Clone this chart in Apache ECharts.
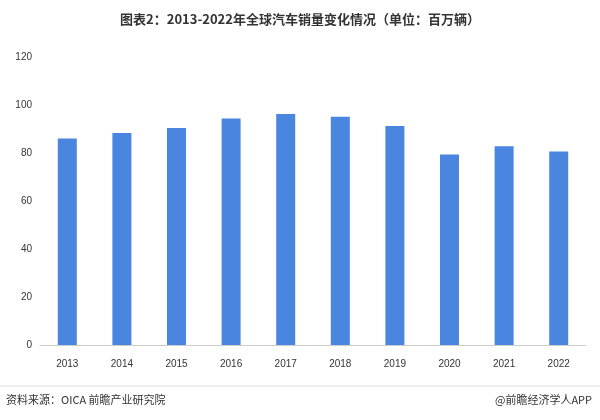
<!DOCTYPE html>
<html><head><meta charset="utf-8">
<script src="https://cdn.jsdelivr.net/npm/echarts@6/dist/echarts.min.js"></script>
</head><body style="margin:0">
<div id="main" style="width:600px;height:420px"></div>
<script>
var years = ['2013','2014','2015','2016','2017','2018','2019','2020','2021','2022']
var sales = [86.0, 88.3, 90.4, 94.4, 96.2, 95.1, 91.3, 79.4, 82.8, 80.6]

var myChart = echarts.init(document.getElementById('main'));
var option = {
    backgroundColor: '#fff',
    title: {
        text: '图表2：2013-2022年全球汽车销量变化情况（单位：百万辆）',
        left: 'center', top: 8,
        textStyle: { fontSize: 13, fontWeight: 'bold', color: '#333', fontFamily: 'Noto Sans CJK SC' }
    },
    graphic: [
        { type: 'line', shape: { x1: 0, y1: 386, x2: 600, y2: 386 }, style: { stroke: '#ddd' } },
        { type: 'text', left: 6, top: 394, style: { text: '资料来源：OICA 前瞻产业研究院', fontSize: 11, fill: '#333', fontFamily: 'Noto Sans CJK SC' } },
        { type: 'text', right: 8, top: 394, style: { text: '@前瞻经济学人APP', fontSize: 11, fill: '#333', fontFamily: 'Noto Sans CJK SC' } }
    ],
    grid: { left: 40, right: 14, top: 57, bottom: 75 },
    xAxis: {
        type: 'category', data: years,
        axisTick: { show: false },
        axisLine: { lineStyle: { color: '#ccc' } },
        axisLabel: { color: '#333', fontSize: 10, margin: 14 }
    },
    yAxis: {
        type: 'value', min: 0, max: 120, interval: 20,
        splitLine: { show: false },
        axisLabel: { color: '#333', fontSize: 10 }
    },
    series: [{
        type: 'bar', data: sales, barWidth: 19,
        itemStyle: { color: '#4a86e0' }
    }]
};
myChart.setOption(option);
</script>
</body></html>
